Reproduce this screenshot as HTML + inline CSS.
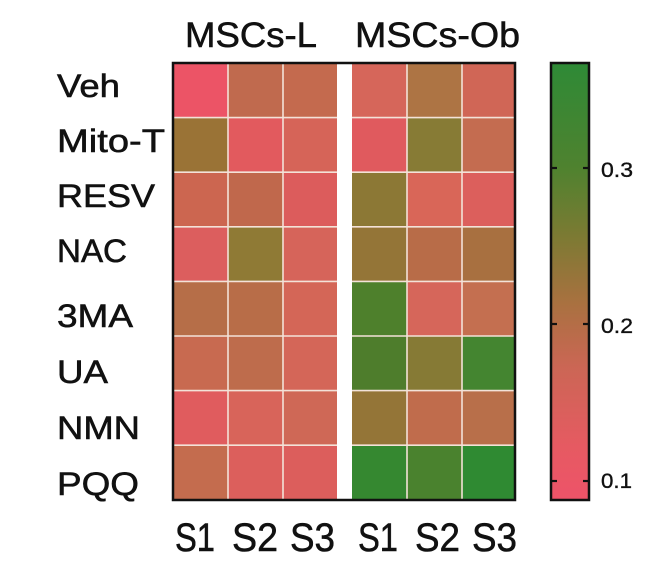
<!DOCTYPE html>
<html>
<head>
<meta charset="utf-8">
<style>
html,body{margin:0;padding:0;background:#fff;}
svg{display:block;}
text{font-family:"Liberation Sans",Arial,sans-serif;fill:#111;stroke:#111;stroke-width:0.55px;}
</style>
</head>
<body>
<svg width="664" height="580" viewBox="0 0 664 580" xmlns="http://www.w3.org/2000/svg">
<defs>
<linearGradient id="cb" x1="0" y1="1" x2="0" y2="0">
<stop offset="0" stop-color="#ee5369"/>
<stop offset="0.12" stop-color="#e65a62"/>
<stop offset="0.3" stop-color="#cc6655"/>
<stop offset="0.45" stop-color="#a97140"/>
<stop offset="0.6" stop-color="#7d7a33"/>
<stop offset="0.76" stop-color="#4f822f"/>
<stop offset="1" stop-color="#2e8a36"/>
</linearGradient>
</defs>

<!-- Headers -->
<text x="185" y="47" font-size="35" textLength="132" lengthAdjust="spacingAndGlyphs">MSCs-L</text>
<text x="355" y="47" font-size="35" textLength="165" lengthAdjust="spacingAndGlyphs">MSCs-Ob</text>

<!-- Row labels -->
<text x="57" y="97" font-size="32" textLength="63" lengthAdjust="spacingAndGlyphs">Veh</text>
<text x="57" y="152" font-size="32" textLength="108" lengthAdjust="spacingAndGlyphs">Mito-T</text>
<text x="57" y="207" font-size="32" textLength="98" lengthAdjust="spacingAndGlyphs">RESV</text>
<text x="57" y="262" font-size="32" textLength="70" lengthAdjust="spacingAndGlyphs">NAC</text>
<text x="57" y="327" font-size="32" textLength="76" lengthAdjust="spacingAndGlyphs">3MA</text>
<text x="57" y="383" font-size="32" textLength="51" lengthAdjust="spacingAndGlyphs">UA</text>
<text x="57" y="439" font-size="32" textLength="83" lengthAdjust="spacingAndGlyphs">NMN</text>
<text x="57" y="495" font-size="32" textLength="82" lengthAdjust="spacingAndGlyphs">PQQ</text>

<!-- Cells: left block -->
<g>
<rect x="173" y="63" width="55" height="54.6" fill="#ec5466"/>
<rect x="228" y="63" width="55" height="54.6" fill="#c06a4e"/>
<rect x="283" y="63" width="54" height="54.6" fill="#c46a4e"/>
<rect x="173" y="117.6" width="55" height="54.6" fill="#9a7336"/>
<rect x="228" y="117.6" width="55" height="54.6" fill="#e25a5e"/>
<rect x="283" y="117.6" width="54" height="54.6" fill="#d66458"/>
<rect x="173" y="172.2" width="55" height="54.6" fill="#cc6650"/>
<rect x="228" y="172.2" width="55" height="54.6" fill="#c0684c"/>
<rect x="283" y="172.2" width="54" height="54.6" fill="#dc5c5c"/>
<rect x="173" y="226.8" width="55" height="54.6" fill="#dc5e5e"/>
<rect x="228" y="226.8" width="55" height="54.6" fill="#8f7a35"/>
<rect x="283" y="226.8" width="54" height="54.6" fill="#d6645a"/>
<rect x="173" y="281.4" width="55" height="54.6" fill="#b66e48"/>
<rect x="228" y="281.4" width="55" height="54.6" fill="#b86d48"/>
<rect x="283" y="281.4" width="54" height="54.6" fill="#d46657"/>
<rect x="173" y="336" width="55" height="54.6" fill="#c86a50"/>
<rect x="228" y="336" width="55" height="54.6" fill="#be6c4c"/>
<rect x="283" y="336" width="54" height="54.6" fill="#d46658"/>
<rect x="173" y="390.6" width="55" height="54.6" fill="#e05c5e"/>
<rect x="228" y="390.6" width="55" height="54.6" fill="#d8645a"/>
<rect x="283" y="390.6" width="54" height="54.6" fill="#cf6856"/>
<rect x="173" y="445.2" width="55" height="54.8" fill="#c46c4e"/>
<rect x="228" y="445.2" width="55" height="54.8" fill="#dc5f5c"/>
<rect x="283" y="445.2" width="54" height="54.8" fill="#dc5e5c"/>
</g>

<!-- Cells: right block -->
<g>
<rect x="352" y="63" width="55" height="54.6" fill="#d6665a"/>
<rect x="407" y="63" width="55" height="54.6" fill="#ad7444"/>
<rect x="462" y="63" width="53" height="54.6" fill="#d06656"/>
<rect x="352" y="117.6" width="55" height="54.6" fill="#e05a5e"/>
<rect x="407" y="117.6" width="55" height="54.6" fill="#877b35"/>
<rect x="462" y="117.6" width="53" height="54.6" fill="#c46c50"/>
<rect x="352" y="172.2" width="55" height="54.6" fill="#8c7835"/>
<rect x="407" y="172.2" width="55" height="54.6" fill="#d96658"/>
<rect x="462" y="172.2" width="53" height="54.6" fill="#dc5f5c"/>
<rect x="352" y="226.8" width="55" height="54.6" fill="#947537"/>
<rect x="407" y="226.8" width="55" height="54.6" fill="#b86c48"/>
<rect x="462" y="226.8" width="53" height="54.6" fill="#a87040"/>
<rect x="352" y="281.4" width="55" height="54.6" fill="#4e802c"/>
<rect x="407" y="281.4" width="55" height="54.6" fill="#d6665a"/>
<rect x="462" y="281.4" width="53" height="54.6" fill="#c46f50"/>
<rect x="352" y="336" width="55" height="54.6" fill="#4e7d2c"/>
<rect x="407" y="336" width="55" height="54.6" fill="#867a35"/>
<rect x="462" y="336" width="53" height="54.6" fill="#448530"/>
<rect x="352" y="390.6" width="55" height="54.6" fill="#947537"/>
<rect x="407" y="390.6" width="55" height="54.6" fill="#c06c4c"/>
<rect x="462" y="390.6" width="53" height="54.6" fill="#b86f4a"/>
<rect x="352" y="445.2" width="55" height="54.8" fill="#358830"/>
<rect x="407" y="445.2" width="55" height="54.8" fill="#4a822e"/>
<rect x="462" y="445.2" width="53" height="54.8" fill="#2f8a32"/>
</g>

<!-- grid lines -->
<g stroke="#f3e2d8" stroke-width="1.6">
<line x1="228" y1="63" x2="228" y2="500"/>
<line x1="283" y1="63" x2="283" y2="500"/>
<line x1="407" y1="63" x2="407" y2="500"/>
<line x1="462" y1="63" x2="462" y2="500"/>
<line x1="173" y1="117.6" x2="337" y2="117.6"/>
<line x1="173" y1="172.2" x2="337" y2="172.2"/>
<line x1="173" y1="226.8" x2="337" y2="226.8"/>
<line x1="173" y1="281.4" x2="337" y2="281.4"/>
<line x1="173" y1="336" x2="337" y2="336"/>
<line x1="173" y1="390.6" x2="337" y2="390.6"/>
<line x1="173" y1="445.2" x2="337" y2="445.2"/>
<line x1="352" y1="117.6" x2="515" y2="117.6"/>
<line x1="352" y1="172.2" x2="515" y2="172.2"/>
<line x1="352" y1="226.8" x2="515" y2="226.8"/>
<line x1="352" y1="281.4" x2="515" y2="281.4"/>
<line x1="352" y1="336" x2="515" y2="336"/>
<line x1="352" y1="390.6" x2="515" y2="390.6"/>
<line x1="352" y1="445.2" x2="515" y2="445.2"/>
</g>

<!-- gap -->
<rect x="337" y="63" width="15" height="437" fill="#ffffff"/>

<!-- outer border -->
<rect x="173" y="63" width="342" height="437" fill="none" stroke="#111" stroke-width="2.5"/>

<!-- column labels -->
<text x="175" y="551" font-size="40" textLength="40" lengthAdjust="spacingAndGlyphs">S1</text>
<text x="232" y="551" font-size="40" textLength="46" lengthAdjust="spacingAndGlyphs">S2</text>
<text x="290" y="551" font-size="40" textLength="45" lengthAdjust="spacingAndGlyphs">S3</text>
<text x="358" y="551" font-size="40" textLength="40" lengthAdjust="spacingAndGlyphs">S1</text>
<text x="415" y="551" font-size="40" textLength="45" lengthAdjust="spacingAndGlyphs">S2</text>
<text x="472" y="551" font-size="40" textLength="45" lengthAdjust="spacingAndGlyphs">S3</text>

<!-- colorbar -->
<rect x="551" y="63" width="38" height="437" fill="url(#cb)" stroke="#111" stroke-width="2.5"/>
<g stroke="#111" stroke-width="2.2">
<line x1="551" y1="168" x2="557" y2="168"/>
<line x1="583" y1="168" x2="589" y2="168"/>
<line x1="551" y1="324" x2="557" y2="324"/>
<line x1="583" y1="324" x2="589" y2="324"/>
<line x1="551" y1="481" x2="557" y2="481"/>
<line x1="583" y1="481" x2="589" y2="481"/>
</g>
<text x="601" y="177" font-size="21" textLength="32" lengthAdjust="spacingAndGlyphs" style="stroke-width:0.35px">0.3</text>
<text x="601" y="333" font-size="21" textLength="32" lengthAdjust="spacingAndGlyphs" style="stroke-width:0.35px">0.2</text>
<text x="601" y="488" font-size="21" textLength="31" lengthAdjust="spacingAndGlyphs" style="stroke-width:0.35px">0.1</text>
</svg>
</body>
</html>
